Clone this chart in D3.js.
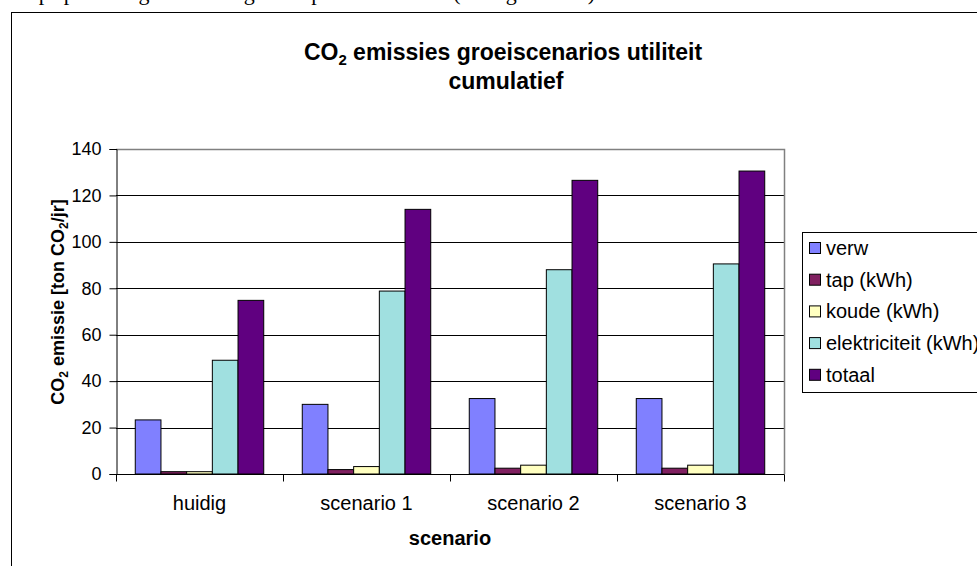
<!DOCTYPE html>
<html>
<head>
<meta charset="utf-8">
<script src="https://cdn.jsdelivr.net/npm/d3@7"></script>
<style>
  html, body { margin: 0; padding: 0; background: #fff; overflow: hidden; }
  svg { display: block; font-family: Arial, "Liberation Sans", sans-serif; }
</style>
</head>
<body>
<svg id="chart" width="977" height="566"></svg>
<script>
// Scenario categories and the emission series (ton CO2 per year)
const categories = ["huidig", "scenario 1", "scenario 2", "scenario 3"];
const seriesNames = ["verw", "tap (kWh)", "koude (kWh)", "elektriciteit (kWh)", "totaal"];
const verw = [23.3, 30.0, 32.5, 32.5];
const tap = [1.0, 1.9, 2.5, 2.5];
const koude = [1.0, 3.2, 3.8, 3.8];
const elektriciteit = [49.0, 78.8, 88.0, 90.5];
const totaal = [74.8, 114.0, 126.5, 130.5];
const yTicks = [0, 20, 40, 60, 80, 100, 120, 140];
const colors = ["#8080ff", "#802060", "#ffffc0", "#a0e0e0", "#600080"];

const seriesValues = [verw, tap, koude, elektriciteit, totaal];

const svg = d3.select("#chart");

// caption line of the surrounding document, running above the page edge
svg.append("text")
  .attr("x", 20).attr("y", 0)
  .attr("font-family", "'Liberation Serif', 'Times New Roman', serif")
  .attr("font-size", 22)
  .attr("textLength", 575).attr("lengthAdjust", "spacing")
  .text("Opsplitsing van de groei per utiliteit (zie grafiek)");

// chart frame
svg.append("rect")
  .attr("x", 11.5).attr("y", 12.5)
  .attr("width", 1000).attr("height", 600)
  .attr("fill", "#fff").attr("stroke", "#000").attr("stroke-width", 1);

const plot = { left: 116, top: 149, right: 784, bottom: 474 };

const x0 = d3.scaleBand()
  .domain(categories)
  .range([plot.left, plot.right])
  .paddingInner(0).paddingOuter(0);

// gap width of 150%: the bar group takes 5 of 6.5 units of each category
const groupWidth = x0.bandwidth() * 5 / 6.5;
const x1 = d3.scaleBand()
  .domain(seriesNames)
  .range([0, groupWidth])
  .padding(0);

const y = d3.scaleLinear()
  .domain([0, 140])
  .range([plot.bottom, plot.top]);

// gridlines
svg.append("g")
  .selectAll("line")
  .data(yTicks.filter(d => d > 0 && d < 140))
  .join("line")
  .attr("x1", plot.left).attr("x2", plot.right)
  .attr("y1", d => Math.round(y(d)) + 0.5).attr("y2", d => Math.round(y(d)) + 0.5)
  .attr("stroke", "#000").attr("stroke-width", 1);

// plot area border (top and right)
svg.append("path")
  .attr("d", `M${plot.left},${Math.round(plot.top) + 0.5}H${plot.right + 0.5}V${plot.bottom}`)
  .attr("fill", "none").attr("stroke", "#808080").attr("stroke-width", 1.5);

// bars
const groups = svg.append("g")
  .selectAll("g")
  .data(categories)
  .join("g")
  .attr("transform", c => `translate(${x0(c) + (x0.bandwidth() - groupWidth) / 2},0)`);

groups.selectAll("rect")
  .data((c, i) => seriesNames.map((s, k) => ({ s, k, v: seriesValues[k][i] })))
  .join("rect")
  .attr("x", d => x1(d.s))
  .attr("y", d => y(d.v))
  .attr("width", x1.bandwidth())
  .attr("height", d => y(0) - y(d.v))
  .attr("fill", d => colors[d.k])
  .attr("stroke", "#000").attr("stroke-width", 1);

// y axis
const yAxis = d3.axisLeft(y).tickValues(yTicks).tickSize(7).tickPadding(8).tickFormat(d3.format("d"));
const gy = svg.append("g")
  .attr("transform", `translate(${plot.left + 0.5},0)`)
  .call(yAxis);
gy.select(".domain").attr("stroke", "#000");
gy.selectAll(".tick line").attr("stroke", "#000");
gy.selectAll(".tick text").attr("font-size", 18).attr("fill", "#000")
  .attr("font-family", "Arial, 'Liberation Sans', sans-serif");

// x axis with ticks at category boundaries
const gx = svg.append("g")
  .attr("transform", `translate(0,${plot.bottom + 0.5})`);
gx.append("line")
  .attr("x1", plot.left).attr("x2", plot.right + 0.5)
  .attr("stroke", "#000");
gx.selectAll("line.tk")
  .data(categories.concat(["end"]))
  .join("line")
  .attr("class", "tk")
  .attr("x1", (c, i) => Math.round(plot.left + i * x0.bandwidth()) + 0.5)
  .attr("x2", (c, i) => Math.round(plot.left + i * x0.bandwidth()) + 0.5)
  .attr("y1", 0).attr("y2", 7)
  .attr("stroke", "#000");
gx.selectAll("text")
  .data(categories)
  .join("text")
  .attr("x", c => x0(c) + x0.bandwidth() / 2)
  .attr("y", 35)
  .attr("text-anchor", "middle")
  .attr("font-size", 20)
  .text(c => c);

// x axis title
svg.append("text")
  .attr("x", (plot.left + plot.right) / 2)
  .attr("y", 545)
  .attr("text-anchor", "middle")
  .attr("font-size", 20).attr("font-weight", "bold")
  .text("scenario");

// y axis title with subscripts
const yt = svg.append("text")
  .attr("transform", `translate(64,302) rotate(-90)`)
  .attr("text-anchor", "middle")
  .attr("font-size", 18).attr("font-weight", "bold");
yt.append("tspan").text("CO");
yt.append("tspan").attr("font-size", 12).attr("dy", 4).text("2");
yt.append("tspan").attr("dy", -4).text(" emissie [ton CO");
yt.append("tspan").attr("font-size", 12).attr("dy", 4).text("2");
yt.append("tspan").attr("dy", -4).text("/jr]");

// chart title
const t1 = svg.append("text")
  .attr("x", 503).attr("y", 60)
  .attr("text-anchor", "middle")
  .attr("font-size", 23).attr("font-weight", "bold");
t1.append("tspan").text("CO");
t1.append("tspan").attr("font-size", 15).attr("dy", 5).text("2");
t1.append("tspan").attr("dy", -5).text(" emissies groeiscenarios utiliteit");
svg.append("text")
  .attr("x", 506).attr("y", 89)
  .attr("text-anchor", "middle")
  .attr("font-size", 23).attr("font-weight", "bold")
  .text("cumulatief");

// legend
const lg = svg.append("g").attr("transform", "translate(802,232)");
lg.append("rect")
  .attr("x", 0.5).attr("y", 0.5).attr("width", 220).attr("height", 160)
  .attr("fill", "#fff").attr("stroke", "#000");
const items = lg.selectAll("g.item")
  .data(seriesNames)
  .join("g")
  .attr("class", "item")
  .attr("transform", (d, i) => `translate(7,${16 + i * 31.7})`);
items.append("rect")
  .attr("x", 0.5).attr("y", -5.5).attr("width", 11).attr("height", 11)
  .attr("fill", (d, i) => colors[i]).attr("stroke", "#000");
items.append("text")
  .attr("x", 17).attr("y", 7)
  .attr("font-size", 20)
  .text(d => d);
</script>
</body>
</html>
